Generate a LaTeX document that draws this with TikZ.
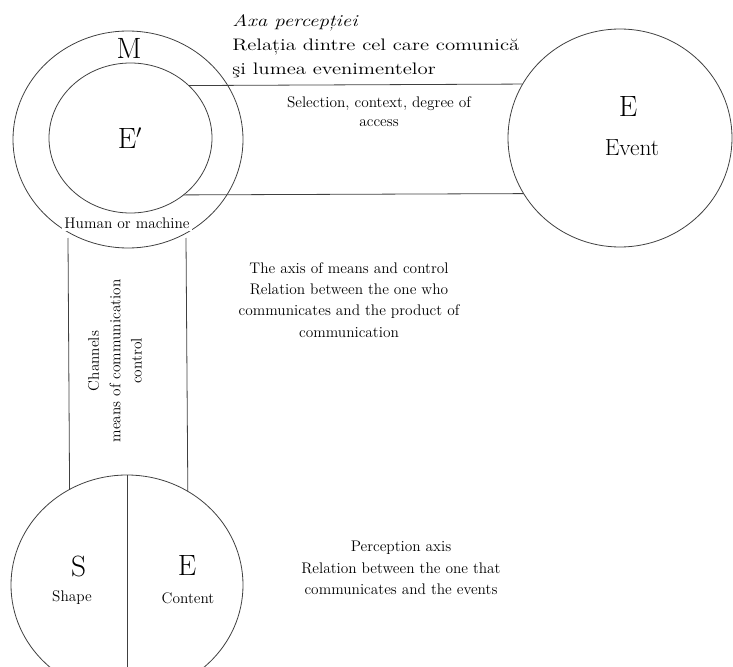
\documentclass[tikz,border=0pt]{standalone}
\usepackage{fontspec}
\newfontfamily\axafont[FakeStretch=1.25]{Latin Modern Roman}
\usetikzlibrary{shapes.geometric}

\begin{document}
\begin{tikzpicture}[x=0.75pt, y=-0.75pt,
  ring/.style={draw=black!75, line width=0.6pt, ellipse, inner sep=0pt, outer sep=0pt},
  big/.style={font=\fontsize{22}{24}\selectfont},
  txt/.style={align=center, font=\fontsize{11.5}{16}\selectfont},
  axis/.style={draw=black!75, line width=0.6pt}]
  \useasboundingbox (0,0) rectangle (733,667);
  \clip (0,0) rectangle (733,667);

  % circles
  \node [ring, minimum width=172.5pt, minimum height=162.75pt] (outer) at (128,139.5) {};
  \node [ring, minimum width=122.25pt, minimum height=112.5pt] (inner) at (130.5,138) {};
  \node [ring, minimum width=168pt, minimum height=163.5pt] (event) at (620,138) {};
  \node [ring, minimum width=174pt, minimum height=165pt] (se) at (127,585) {};

  % labels
  \node [big] (m) at (129,48) {M};
  \node [big] (eprime) at (130,138) {E$'$};
  \node [big] (e) at (628,107) {E};
  \node [font=\fontsize{17.5}{20}\selectfont] (ev) at (632,148) {Event};
  \node [big] (s) at (78.5,566) {S};
  \node [big] (c) at (187,566) {E};
  \node [txt] (shape) at (72,598) {Shape};
  \node [txt] (content) at (188,598) {Content};
  \node [txt, fill=white, inner sep=2pt] (human) at (127,223) {Human or machine};
  \node [txt, font=\fontsize{11.5}{14.5}\selectfont] (sel) at (379,112) {Selection, context, degree of\\access};
  \node [txt] (meansaxis) at (349,300) {The axis of means and control\\Relation between the one who\\communicates and the product of\\communication};
  \node [txt] (percaxis) at (401,568) {Perception axis\\Relation between the one that\\communicates and the events};
  \node [txt, rotate=90] (chan) at (115,361) {Channels\\means of communication\\control};
  \node [align=left, anchor=west, inner sep=0pt, font=\axafont\fontsize{12.5}{18}\selectfont] (axa) at (232,46) {\textit{Axa percepției}\\Relația dintre cel care comunică\\şi lumea evenimentelor};

  % connectors
  \coordinate (chl) at (68,238);
  \coordinate (chr) at (186,238);
  \draw [axis] (inner.42.7) -- (event.151.6);
  \draw [axis] (inner.-47) -- (event.210.8);
  \draw [axis] (chl) -- (se.121.8);
  \draw [axis] (chr) -- (se.57.9);
  \draw [axis] (se.north) -- (se.south);
\end{tikzpicture}
\end{document}
